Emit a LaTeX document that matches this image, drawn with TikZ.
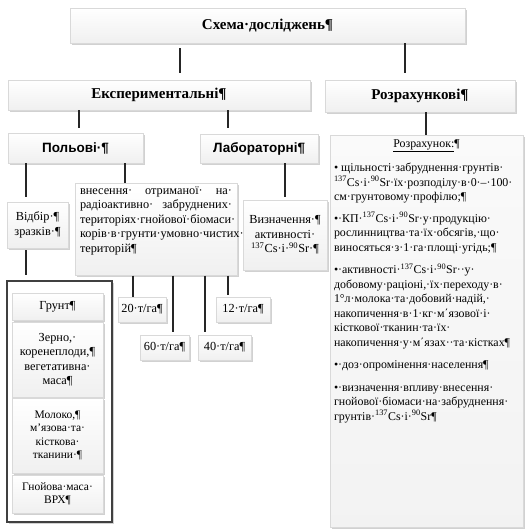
\documentclass[tikz,border=0pt]{standalone}
\usepackage{fontspec}
\setmainfont{Liberation Serif}
\newfontfamily\arialf{Liberation Sans}
\usetikzlibrary{shadows}
\newcommand\iso[2]{\textsuperscript{#1}#2}
\newcommand\bodyf{\fontsize{12.3}{14.5}\selectfont}
\newcommand\rzf{\fontsize{11.9}{14.5}\selectfont}
\tikzset{
  bx/.style={rectangle, inner sep=2pt, top color=white, bottom color=gray!12,
    draw=gray!30, line width=0.5pt, align=center, font=\bodyf,
    drop shadow={shadow xshift=1.5pt, shadow yshift=-2pt, fill=gray!60, opacity=0.6}},
  hd/.style={font=\fontsize{15}{17}\selectfont\bfseries},
  hs/.style={font=\fontsize{13.5}{16}\selectfont\arialf\bfseries},
  conn/.style={line width=2.6pt, draw=black!85},
  sz/.style 2 args={minimum width=#1pt, minimum height=#2pt},
}
\begin{document}
\begin{tikzpicture}[x=1pt,y=-1pt]
\useasboundingbox (0,0) rectangle (530,532);
% x positions of connectors
\coordinate (xa) at (180,0);
\coordinate (xb) at (405,0);
\coordinate (xc) at (79,0);
\coordinate (xd) at (228,0);
\coordinate (xe) at (426,0);
\coordinate (xf) at (26,0);
\coordinate (xg) at (125,0);
\coordinate (xh) at (285,0);
\coordinate (xi) at (133,0);
\coordinate (xj) at (173,0);
\coordinate (xk) at (205,0);
\coordinate (xl) at (228,0);

\node[bx, hd, sz={395}{35}] (top) at (267.5,25.5) {Схема·досліджень¶};
\node[bx, hd, sz={302}{30}] (exp) at (159,95) {Експериментальні¶};
\node[bx, hd, sz={190}{32}] (rozr) at (420,96) {Розрахункові¶};
\node[bx, hs, sz={135}{30}] (pol) at (75.5,148) {Польові·¶};
\node[bx, hs, sz={118}{29}] (lab) at (259,148.5) {Лабораторні¶};
\node[bx, sz={61}{46}, inner sep=1pt] (vidbir) at (37.5,225) {Відбір·¶\\зразків·¶};
\node[bx, sz={162}{92}, inner xsep=5pt, inner ysep=3pt, anchor=north] (vnes) at (156,183)
  {\parbox[t][86pt][t]{152pt}{\bodyf
   \makebox[152pt][s]{внесення·\hfill отриманої·\hfill на·}\\
   \makebox[152pt][s]{радіоактивно·\hfill забруднених·}\\
   \makebox[152pt][s]{територіях·\hfill гнойової·\hfill біомаси·}\\
   \makebox[152pt][s]{корів·в·грунти·умовно·чистих·}\\
   територій¶}};
\node[bx, sz={84}{70}, inner sep=1pt] (vyzn) at (285,235) {Визначення·¶\\активності·\\\iso{137}{Cs}·і·\iso{90}{Sr}·¶};
\node[bx, sz={193}{392}, top color=gray!4, bottom color=gray!10, inner xsep=4pt, inner ysep=3pt, anchor=north] (rozrakh) at (426.5,135)
  {\parbox[t][384pt][t]{185pt}{\rzf\raggedright
   \centerline{\underline{Розрахунок:}¶}\par\vspace{10pt}
   \mbox{• щільності·забруднення·грунтів·}\\
   \mbox{\iso{137}{Cs}·і·\iso{90}{Sr}·їх·розподілу·в·0·–·100·}\\
   \mbox{см·грунтовому·профілю;¶}\par\vspace{7pt}
   \mbox{•·КП·\iso{137}{Cs}·і·\iso{90}{Sr}·у·продукцію·}\\
   \mbox{рослинництва·та·їх·обсягів,·що·}\\
   \mbox{виносяться·з·1·га·площі·угідь;¶}\par\vspace{8pt}
   \mbox{•·активності·\iso{137}{Cs}·і·\iso{90}{Sr}··у·}\\
   \mbox{добовому·раціоні,·їх·переходу·в·}\\
   \mbox{1°л·молока·та·добовий·надій,·}\\
   \mbox{накопичення·в·1·кг·м΄язової·і·}\\
   \mbox{кісткової·тканин·та·їх·}\\
   \mbox{накопичення·у·м΄язах··та·кістках¶}\par\vspace{8pt}
   \mbox{•·доз·опромінення·населення¶}\par\vspace{8pt}
   \mbox{•·визначення·впливу·внесення·}\\
   \mbox{гнойової·біомаси·на·забруднення·}\\
   \mbox{грунтів·\iso{137}{Cs}·і·\iso{90}{Sr}¶}}};

% group frame with sample types
\node[rectangle, sz={105}{241}, draw=black!75, line width=1.8pt, fill=white,
  drop shadow={shadow xshift=1.5pt, shadow yshift=-2pt, fill=gray!60, opacity=0.6}] (grp) at (59.5,401.5) {};
\node[bx, sz={91}{27}] (grunt) at (57.5,306.5) {Грунт¶};
\node[bx, sz={91}{75}] (zerno) at (57.5,359.5) {Зерно,·\\коренеплоди,¶\\вегетативна·\\маса¶};
\node[bx, sz={91}{75}, font=\fontsize{11.5}{13.5}\selectfont] (moloko) at (57.5,435.5) {Молоко,¶\\м'язова·та·\\кісткова·\\тканини·¶};
\node[bx, sz={91}{38}, font=\fontsize{11.5}{12.5}\selectfont] (gnoy) at (57.5,494) {Гнойова·маса·\\ВРХ¶};

% doses
\node[bx, sz={48}{25}] (t20) at (142,309.5) {20·т/га¶};
\node[bx, sz={49}{25}] (t60) at (164.5,347.5) {60·т/га¶};
\node[bx, sz={53}{25}] (t40) at (224.5,347.5) {40·т/га¶};
\node[bx, sz={54}{25}] (t12) at (243,309.5) {12·т/га¶};

% connectors
\draw[conn, shorten <=5pt, shorten >=7pt] (top.south -| xa) -- (exp.north -| xa);
\draw[conn, shorten >=7pt] (top.south -| xb) -- (rozr.north -| xb);
\draw[conn, shorten >=5pt] (exp.south -| xc) -- (pol.north -| xc);
\draw[conn, shorten >=6pt] (exp.south -| xd) -- (lab.north -| xd);
\draw[conn] (rozr.south -| xe) -- (rozrakh.north -| xe);
\draw[conn, shorten >=5pt] (pol.south -| xf) -- (vidbir.north -| xf);
\draw[conn] (pol.south -| xg) -- (vnes.north -| xg);
\draw[conn, shorten >=3pt] (lab.south -| xh) -- (vyzn.north -| xh);
\draw[conn, shorten <=2pt, shorten >=5pt] (vidbir.south -| xf) -- (grp.north -| xf);
\draw[conn] (vnes.south -| xi) -- (t20.north -| xi);
\draw[conn, shorten >=3pt] (vnes.south -| xj) -- (t60.north -| xj);
\draw[conn, shorten >=3pt] (vnes.south -| xk) -- (t40.north -| xk);
\draw[conn, shorten >=2pt] (vnes.south -| xl) -- (t12.north -| xl);
\end{tikzpicture}
\end{document}
